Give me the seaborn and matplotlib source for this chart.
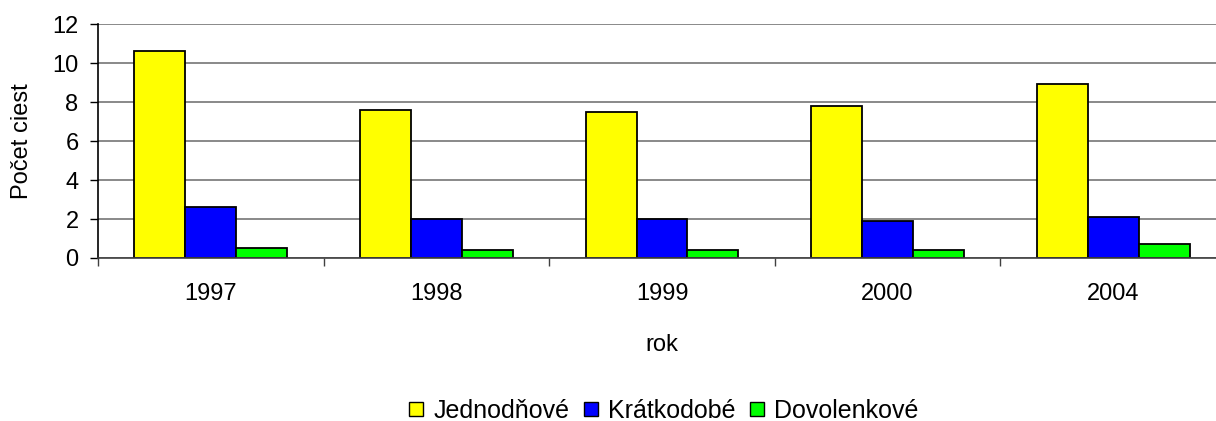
import matplotlib
matplotlib.use("Agg")
import matplotlib.pyplot as plt
import seaborn as sns
import pandas as pd
import numpy as np

years = ["1997", "1998", "1999", "2000", "2004"]
series_names = ["Jednodňové", "Krátkodobé", "Dovolenkové"]
jednodnove = [10.6, 7.6, 7.5, 7.8, 8.9]
kratkodobe = [2.6, 2.0, 2.0, 1.9, 2.1]
dovolenkove = [0.5, 0.4, 0.4, 0.4, 0.7]
colors = ["#FFFF00", "#0000FF", "#00FF00"]
y_ticks = [0, 2, 4, 6, 8, 10, 12]

sns.set_theme(style="white")
plt.rcParams['font.family'] = ['Liberation Sans', 'DejaVu Sans']
plt.rcParams['text.color'] = 'black'
plt.rcParams['axes.labelcolor'] = 'black'
plt.rcParams['xtick.color'] = 'black'
plt.rcParams['ytick.color'] = 'black'

df = pd.DataFrame({
    "rok": years * 3,
    "séria": [series_names[0]] * 5 + [series_names[1]] * 5 + [series_names[2]] * 5,
    "hodnota": jednodnove + kratkodobe + dovolenkove,
})

FS = 17

fig = plt.figure(figsize=(12.16, 4.21), dpi=100)
ax = fig.add_axes([98 / 1216, 1 - 258 / 421, 1128 / 1216, 234 / 421])

sns.barplot(data=df, x="rok", y="hodnota", hue="séria", order=years,
            hue_order=series_names, palette=colors, width=0.678, gap=0,
            edgecolor="black", linewidth=1.3, saturation=1, ax=ax,
            legend=True)

ax.set_xlim(-0.5, 4.5)
ax.set_ylim(0, 12)
ax.set_yticks(y_ticks)
ax.yaxis.grid(True, color="#808080", linewidth=1.3)
ax.set_axisbelow(True)
for s in ["top", "right"]:
    ax.spines[s].set_visible(False)
for s in ["left", "bottom"]:
    ax.spines[s].set_visible(True)
    ax.spines[s].set_color("black")
    ax.spines[s].set_linewidth(1.2)
ax.spines["bottom"].set_color("#404040")

ax.tick_params(axis="y", which="major", length=6, width=1, color="black",
               labelcolor="black", direction="out", left=True, labelsize=FS, pad=8)
ax.tick_params(axis="x", which="major", length=0, labelsize=FS, pad=18,
               labelcolor="black")
ax.set_xticks(np.arange(-0.5, 4.6, 1.0), minor=True)
ax.tick_params(axis="x", which="minor", length=6, width=1, color="#404040",
               direction="out", bottom=True)

ax.set_xlabel("rok", fontsize=FS, labelpad=21, color="black")
ax.set_ylabel("Počet ciest", fontsize=FS, labelpad=14, color="black")

leg = ax.legend(loc="center", bbox_to_anchor=(664 / 1216, 10 / 421),
                bbox_transform=fig.transFigure, ncol=3, frameon=False,
                fontsize=18, handlelength=0.55, handleheight=0.5,
                handletextpad=0.4, columnspacing=0.6)
for h in leg.legend_handles:
    h.set_edgecolor("black")
    h.set_linewidth(1.0)
for t in leg.get_texts():
    t.set_color("black")

fig.savefig("out.png", dpi=100)
